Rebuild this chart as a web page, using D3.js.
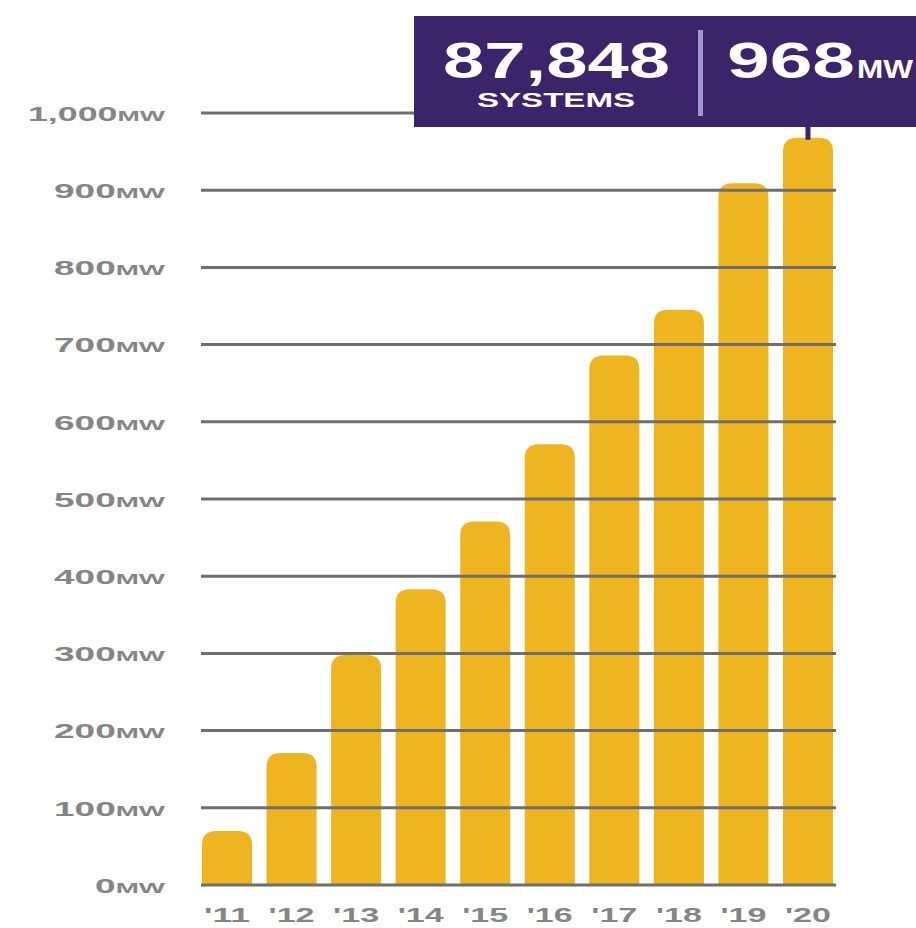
<!DOCTYPE html>
<html>
<head>
<meta charset="utf-8">
<script src="https://cdn.jsdelivr.net/npm/d3@7"></script>
<style>
  html, body { margin: 0; padding: 0; background: #ffffff; }
  svg { display: block; }
</style>
</head>
<body>
<script>
// Installed solar capacity by year (MW)
const years = ["'11", "'12", "'13", "'14", "'15", "'16", "'17", "'18", "'19", "'20"];
const capacityMW = [70, 171, 298, 383, 471, 571, 686, 745, 909, 968];
const yTicks = [0, 100, 200, 300, 400, 500, 600, 700, 800, 900, 1000];
const systemsTotal = 87848;
const capacityTotal = 968;

const W = 916, H = 928;
const svg = d3.select("body").append("svg").attr("width", W).attr("height", H);

const x = d3.scaleBand().domain(years).range([202, 833]).paddingInner(0.225).paddingOuter(0);
const y = d3.scaleLinear().domain([0, 1000]).range([885, 113]);

const gold = "#efb520";
const grid = "#6e6e6e";
const labelGray = "#858585";
const purple = "#3b246a";

// Bars with rounded tops
const r = 14;
function barPath(d, i) {
  const x0 = x(years[i]), w = x.bandwidth();
  const top = y(d), bottom = y(0);
  const rr = Math.min(r, (bottom - top));
  return `M${x0},${bottom}V${top + rr}Q${x0},${top} ${x0 + rr},${top}H${x0 + w - rr}Q${x0 + w},${top} ${x0 + w},${top + rr}V${bottom}Z`;
}
svg.append("g").selectAll("path").data(capacityMW).join("path")
  .attr("d", barPath)
  .attr("fill", gold);

// Gridlines drawn over the bars
svg.append("g").selectAll("line").data(yTicks).join("line")
  .attr("x1", 201).attr("x2", 836)
  .attr("y1", d => y(d)).attr("y2", d => y(d))
  .attr("stroke", grid).attr("stroke-width", 3);

// Y-axis labels
const yAxis = d3.axisLeft(y).tickValues(yTicks).tickSize(0).tickPadding(0);
const yg = svg.append("g").attr("transform", "translate(165,0)").call(yAxis);
yg.select(".domain").remove();
yg.selectAll(".tick text").each(function(d) {
  const t = d3.select(this);
  t.text(null)
    .attr("fill", labelGray)
    .attr("font-family", "'Liberation Sans', Arial, sans-serif")
    .attr("font-weight", "bold")
    .attr("font-size", 20)
    .attr("dy", "0.36em")
    .attr("text-anchor", "end");
  t.append("tspan").text(d3.format(",")(d));
  t.append("tspan").attr("font-size", 15).text("MW");
  const full = d >= 1000 ? 137 : (d === 0 ? 70 : 111);
  t.attr("textLength", full).attr("lengthAdjust", "spacingAndGlyphs");
});

// X-axis labels
const xAxis = d3.axisBottom(x).tickSize(0).tickPadding(0);
const xg = svg.append("g").attr("transform", "translate(0,922)").call(xAxis);
xg.select(".domain").remove();
xg.selectAll(".tick text")
  .attr("dy", 0)
  .attr("fill", labelGray)
  .attr("font-family", "'Liberation Sans', Arial, sans-serif")
  .attr("font-weight", "bold")
  .attr("font-size", 20)
  .attr("textLength", 46)
  .attr("lengthAdjust", "spacingAndGlyphs");

// Summary callout
const last = years[years.length - 1];
const cx = x(last) + x.bandwidth() / 2;
svg.append("rect").attr("x", 414).attr("y", 16).attr("width", W - 414).attr("height", 111).attr("fill", purple);
svg.append("rect").attr("x", cx - 2.5).attr("y", 126).attr("width", 5).attr("height", y(capacityTotal) - 126 + 2).attr("fill", purple);
svg.append("rect").attr("x", 698).attr("y", 30).attr("width", 5).attr("height", 86).attr("fill", "#9d99c9");

const font = "'Liberation Sans', Arial, sans-serif";
svg.append("text").attr("x", 443).attr("y", 78)
  .attr("font-family", font).attr("font-weight", "bold").attr("font-size", 50)
  .attr("fill", "#ffffff").attr("textLength", 227).attr("lengthAdjust", "spacingAndGlyphs")
  .text(d3.format(",")(systemsTotal));
svg.append("text").attr("x", 477).attr("y", 107)
  .attr("font-family", font).attr("font-weight", "bold").attr("font-size", 20)
  .attr("fill", "#ffffff").attr("textLength", 158).attr("lengthAdjust", "spacingAndGlyphs")
  .text("SYSTEMS");
svg.append("text").attr("x", 727).attr("y", 78)
  .attr("font-family", font).attr("font-weight", "bold").attr("font-size", 50)
  .attr("fill", "#ffffff").attr("textLength", 128).attr("lengthAdjust", "spacingAndGlyphs")
  .text(capacityTotal);
svg.append("text").attr("x", 857).attr("y", 78)
  .attr("font-family", font).attr("font-weight", "bold").attr("font-size", 25)
  .attr("fill", "#ffffff").attr("textLength", 56).attr("lengthAdjust", "spacingAndGlyphs")
  .text("MW");
</script>
</body>
</html>
